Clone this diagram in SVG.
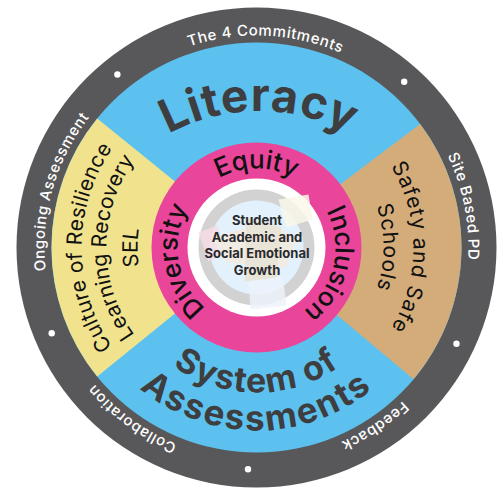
<svg xmlns="http://www.w3.org/2000/svg" width="503" height="489" viewBox="0 0 503 489">
<style>
.ring{font-family:Inter,"DejaVu Sans",sans-serif;font-size:15px;font-weight:500;fill:#fff;letter-spacing:0.6px;}
.big{font-family:Inter,"DejaVu Sans",sans-serif;font-weight:700;fill:#3e3d40;}
.pk{font-family:Inter,"DejaVu Sans",sans-serif;font-size:26px;font-weight:500;fill:#111;}
.side{font-family:Inter,"DejaVu Sans",sans-serif;font-size:21px;font-weight:400;fill:#111;}
.ctr{font-family:Inter,"DejaVu Sans",sans-serif;font-size:13px;font-weight:700;fill:#2a2a2c;text-anchor:middle;}
</style>
<defs>
<path id="ringPath" d="M0,212 A212,212 0 1 1 0,-212 A212,212 0 1 1 0,212"/>
<path id="pinkPath" d="M0,79 A79,79 0 1 1 0,-79 A79,79 0 1 1 0,79"/>
<path id="y1" d="M0,175 A175,175 0 1 1 0,-175 A175,175 0 1 1 0,175"/>
<path id="y2" d="M0,150 A150,150 0 1 1 0,-150 A150,150 0 1 1 0,150"/>
<path id="y3" d="M0,119 A119,119 0 1 1 0,-119 A119,119 0 1 1 0,119"/>
<path id="t1" d="M0,157 A157,157 0 1 1 0,-157 A157,157 0 1 1 0,157"/>
<path id="t2" d="M0,127 A127,127 0 1 1 0,-127 A127,127 0 1 1 0,127"/>
<path id="litPath" d="M-187.5,53.5 A190,190 0 0 1 192.5,53.5"/>
<path id="sysPath" d="M-145,0 A145,145 0 0 0 145,0"/>
<path id="assPath" d="M-183,0 A183,183 0 0 0 183,0"/>
</defs>
<g transform="translate(256.5,247.5)">
<g id="outer-ring">
<circle r="240" fill="#58585a"/>
<g fill="#fff">
<circle cx="147.7" cy="-165.7" r="3.2"/>
<circle cx="200" cy="96.3" r="3.2"/>
<circle cx="-8.5" cy="221.8" r="3.2"/>
<circle cx="-204.8" cy="85.7" r="3.2"/>
<circle cx="-139.1" cy="-173" r="3.2"/>
</g>
<text class="ring" text-anchor="middle"><textPath href="#ringPath" startOffset="10%">Collaboration</textPath></text>
<text class="ring" text-anchor="middle"><textPath href="#ringPath" startOffset="29.4%">Ongoing Assessment</textPath></text>
<text class="ring" text-anchor="middle"><textPath href="#ringPath" startOffset="50.7%">The 4 Commitments</textPath></text>
<text class="ring" text-anchor="middle"><textPath href="#ringPath" startOffset="71.9%">Site Based PD</textPath></text>
<text class="ring" text-anchor="middle"><textPath href="#ringPath" startOffset="90.7%">Feedback</textPath></text>
</g>
<g id="literacy">
<circle r="205" fill="#5cc1ee"/>
<text class="big" font-size="46" letter-spacing="1" text-anchor="middle"><textPath href="#litPath" startOffset="50%">Literacy</textPath></text>
</g>
<g id="culture">
<path d="M0,0 L-159.3,129 A205,205 0 0 1 -159.3,-129 Z" fill="#f1e38e"/>
<text class="side" letter-spacing="0.3" text-anchor="middle"><textPath href="#y1" startOffset="25%">Culture of Resilience</textPath></text>
<text class="side" text-anchor="middle"><textPath href="#y2" startOffset="25%">Learning Recovery</textPath></text>
<text class="side" font-size="16" text-anchor="middle"><textPath href="#y3" startOffset="25%">SEL</textPath></text>
</g>
<g id="safety">
<path d="M0,0 L163.7,-123.4 A205,205 0 0 1 157,131.8 Z" fill="#d4ac7a"/>
<text class="side" font-size="22" letter-spacing="0.9" text-anchor="middle"><textPath href="#t1" startOffset="75%">Safety and Safe</textPath></text>
<text class="side" font-size="22" letter-spacing="0.8" text-anchor="middle"><textPath href="#t2" startOffset="75%">Schools</textPath></text>
</g>
<g id="assessments">
<text class="big" font-size="34" letter-spacing="1.2" text-anchor="middle"><textPath href="#sysPath" startOffset="50%">System of</textPath></text>
<text class="big" font-size="35" letter-spacing="2" text-anchor="middle"><textPath href="#assPath" startOffset="50%">Assessments</textPath></text>
</g>
<g id="pink-ring">
<circle r="105" fill="#e9459a"/>
<text class="pk" text-anchor="middle"><textPath href="#pinkPath" startOffset="22.2%">Diversity</textPath></text>
<text class="pk" text-anchor="middle"><textPath href="#pinkPath" startOffset="50%">Equity</textPath></text>
<text class="pk" text-anchor="middle"><textPath href="#pinkPath" startOffset="78.6%">Inclusion</textPath></text>
</g>
<g id="center">
<circle r="69" fill="#fff"/>
<circle r="58" fill="#d2d2d2"/>
<circle r="47" fill="#e2f1fb"/>
<g opacity="0.85">
<path d="M-58,-15 L-40,-22 L-28,5 L-48,14 Z" fill="#f7dce8"/>
<path d="M-45,-10 L10,-25 L40,-10 L30,20 L-30,15 Z" fill="#f3ece0"/>
<path d="M22,-48 L52,-53 L56,-28 L30,-20 Z" fill="#fbf8ea"/>
<path d="M-8,34 L26,28 L30,58 L-6,62 Z" fill="#eef3fb"/>
<path d="M-10,-30 L25,-20 L20,30 L-12,34 Z" fill="#ebe2d2"/>
</g>
<text class="ctr" x="0.5" y="-22.5">Student</text>
<text class="ctr" x="0.5" y="-5.5">Academic and</text>
<text class="ctr" x="0.5" y="10.5">Social Emotional</text>
<text class="ctr" x="0.5" y="27.5">Growth</text>
</g>
</g>
</svg>
